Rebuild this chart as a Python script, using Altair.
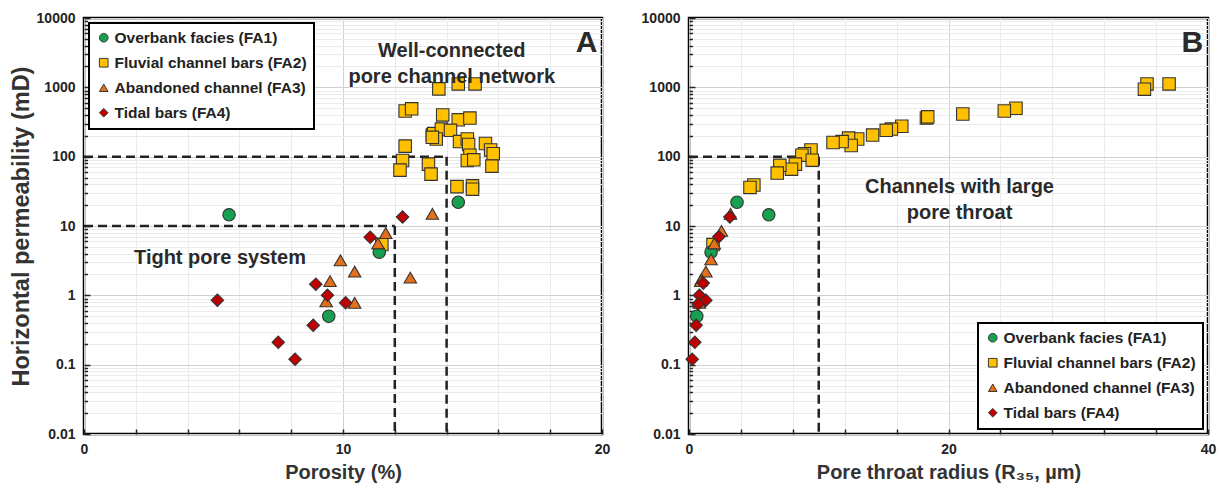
import altair as alt
import pandas as pd

FONT = "Liberation Sans"

facies = ["Overbank facies (FA1)", "Fluvial channel bars (FA2)",
          "Abandoned channel (FA3)", "Tidal bars (FA4)"]
colors = ["#17a050", "#ffc000", "#e4701a", "#c00000"]
shapes = ["circle", "square", "triangle-up", "diamond"]

# ---- Panel A: porosity (%) vs permeability (mD)
a_fa1_x = [5.6, 9.45, 11.4, 14.45]
a_fa1_k = [14.5, 0.5, 4.2, 22]
a_fa2_x = [13.7, 14.45, 15.1, 12.4, 12.65, 13.85, 14.45, 14.9, 13.45, 13.5, 13.8,
           14.15, 13.6, 13.45, 14.5, 14.8, 14.85, 15.5, 15.7, 15.8, 14.9, 14.8,
           15.05, 15.75, 12.4, 12.3, 12.2, 13.3, 13.4, 14.4, 15.0, 15.0, 11.5]
a_fa2_k = [950, 1120, 1120, 455, 490, 400, 340, 360, 205, 215, 250,
           240, 180, 190, 165, 180, 150, 155, 125, 110, 105, 88,
           90, 73, 142, 88, 64, 78, 56, 37, 38, 34, 5.4]
a_fa3_x = [11.65, 11.35, 13.45, 9.9, 10.45, 12.6, 9.5, 9.35, 10.45]
a_fa3_k = [7.9, 5.6, 15, 3.2, 2.2, 1.8, 1.6, 0.82, 0.78]
a_fa4_x = [12.3, 11.05, 8.95, 9.4, 10.1, 8.85, 5.15, 7.5, 8.15]
a_fa4_k = [13.5, 6.9, 1.45, 1.0, 0.78, 0.37, 0.85, 0.21, 0.12]

# ---- Panel B: pore throat radius R35 (um) vs permeability (mD)
b_fa1_x = [6.15, 0.6, 1.7, 3.7]
b_fa1_k = [14.5, 0.5, 4.2, 22]
b_fa2_x = [35.3, 35.1, 37.0, 25.2, 24.3, 21.1, 18.3, 18.4, 16.4, 15.6, 15.2,
           14.15, 13.0, 12.3, 12.5, 11.8, 11.1, 9.4, 8.9, 8.7, 9.5, 8.2,
           7.9, 7.0, 6.8, 5.0, 4.7, 1.85]
b_fa2_k = [1120, 940, 1120, 500, 455, 412, 360, 375, 275, 250, 240,
           205, 180, 185, 145, 165, 160, 125, 110, 105, 89, 78,
           66, 75, 58, 39, 36, 5.4]
b_fa3_x = [2.5, 1.95, 3.2, 1.7, 1.3, 0.95, 0.9, 0.75, 0.8]
b_fa3_k = [8.5, 5.6, 15, 3.3, 2.2, 1.7, 1.6, 0.82, 0.78]
b_fa4_x = [3.15, 2.3, 1.1, 0.8, 1.3, 0.7, 0.55, 0.45, 0.25]
b_fa4_k = [13.5, 7.0, 1.5, 1.0, 0.85, 0.75, 0.37, 0.21, 0.12]

# dashed cut-off lines (x, y, x2, y2) in data units
a_cut_x = [0, 14, 0, 12]
a_cut_y = [100, 100, 10, 10]
a_cut_x2 = [14, 14, 12, 12]
a_cut_y2 = [100, 0.01, 10, 0.01]
b_cut_x = [0, 10]
b_cut_y = [100, 100]
b_cut_x2 = [10, 10]
b_cut_y2 = [100, 0.01]

# annotations
a_note_text = ["Well-connected", "pore channel network", "Tight pore system", "A"]
a_note_x = [14.2, 14.2, 5.25, 19.4]
a_note_k = [3300, 1400, 3.5, 4300]
a_note_size = [20, 20, 20, 30]
b_note_text = ["Channels with large", "pore throat", "B"]
b_note_x = [20.85, 20.85, 38.8]
b_note_k = [36, 15.5, 4300]
b_note_size = [20, 20, 30]

y_ticks = [m * 10 ** e for e in range(-2, 4) for m in range(1, 10)] + [10000]
major_test = "abs(log(datum.value)/LN10 - round(log(datum.value)/LN10)) < 1e-6"


def points_df(groups):
    rows = []
    for name, xs, ks in groups:
        for x, k in zip(xs, ks):
            rows.append({"facies": name, "x": x, "k": k})
    return pd.DataFrame(rows)


def panel(df, cuts, notes, xmax, xstep, xlabstep, xtitle, ytitle, legend_orient, width):
    y_axis = alt.Axis(
        values=y_ticks,
        labelExpr=f"({major_test}) ? (datum.value >= 1 ? format(datum.value, 'd') : format(datum.value, '.2~f')) : ''",
        title=ytitle,
        grid=True,
        gridColor={"condition": {"test": major_test, "value": "#d2d2d2"}, "value": "#ebebeb"},
        tickSize={"condition": {"test": major_test, "value": -6}, "value": -3.5},
        tickColor="#222", tickWidth=1.5,
        domain=False,
        labelFont=FONT, labelFontSize=14, labelFontWeight="bold", labelColor="#222",
        labelPadding=15,
        titleFont=FONT, titleFontSize=23.5, titleFontWeight="bold", titleColor="#333",
        titlePadding=3,
    )
    x_major = f"datum.value % {xlabstep} == 0"
    x_axis = alt.Axis(
        values=list(range(0, xmax + 1, xstep)),
        labelExpr=f"({x_major}) ? format(datum.value, 'd') : ''",
        title=xtitle,
        grid=True,
        gridColor={"condition": {"test": x_major, "value": "#d2d2d2"}, "value": "#ebebeb"},
        tickSize={"expr": "-5"}, tickColor="#222", tickWidth=1.5,
        domain=False, labelFlush=False,
        labelFont=FONT, labelFontSize=14, labelFontWeight="bold", labelColor="#222",
        labelPadding=13,
        titleFont=FONT, titleFontSize=20, titleFontWeight="bold", titleColor="#333",
        titlePadding=6,
    )
    xs = alt.Scale(domain=[0, xmax], nice=False)
    ys = alt.Scale(type="log", domain=[0.01, 10000], nice=False)

    legend = alt.Legend(
        orient=legend_orient, title=None,
        strokeColor="black", fillColor="white", padding=7, rowPadding=8,
        labelFont=FONT, labelFontSize=15.5, labelFontWeight="bold", labelColor="#222",
        symbolSize=75, symbolStrokeColor="#3a3a3a", symbolStrokeWidth=1, labelOffset=3,
        offset=5, labelLimit=400,
    )
    pts = alt.Chart(df).mark_point(filled=True, size=155, stroke="#333333",
                                   strokeWidth=1.1, opacity=1).encode(
        x=alt.X("x:Q", scale=xs, axis=x_axis),
        y=alt.Y("k:Q", scale=ys, axis=y_axis),
        color=alt.Color("facies:N", scale=alt.Scale(domain=facies, range=colors), legend=legend),
        shape=alt.Shape("facies:N", scale=alt.Scale(domain=facies, range=shapes), legend=legend),
        order=alt.Order("ord:Q"),
    )
    cut = alt.Chart(cuts).mark_rule(color="#222", strokeWidth=2.5, strokeDash=[9, 5]).encode(
        x=alt.X("x:Q", scale=xs), y=alt.Y("y:Q", scale=ys),
        x2="x2:Q", y2="y2:Q",
    )
    txt = alt.Chart(notes).mark_text(font=FONT, fontWeight="bold", color="#2a2a2a").encode(
        x=alt.X("x:Q", scale=xs), y=alt.Y("k:Q", scale=ys),
        text="text:N", size=alt.Size("size:Q", scale=None, legend=None),
    )
    return alt.layer(cut, pts, txt).properties(width=width, height=416)


def order_df(df):
    order_map = {facies[1]: 0, facies[0]: 1, facies[2]: 2, facies[3]: 3}
    df["ord"] = df["facies"].map(order_map)
    return df


df_a = order_df(points_df([(facies[1], a_fa2_x, a_fa2_k), (facies[0], a_fa1_x, a_fa1_k),
                           (facies[2], a_fa3_x, a_fa3_k), (facies[3], a_fa4_x, a_fa4_k)]))
df_b = order_df(points_df([(facies[1], b_fa2_x, b_fa2_k), (facies[0], b_fa1_x, b_fa1_k),
                           (facies[2], b_fa3_x, b_fa3_k), (facies[3], b_fa4_x, b_fa4_k)]))

cuts_a = pd.DataFrame({"x": a_cut_x, "y": a_cut_y, "x2": a_cut_x2, "y2": a_cut_y2})
cuts_b = pd.DataFrame({"x": b_cut_x, "y": b_cut_y, "x2": b_cut_x2, "y2": b_cut_y2})
notes_a = pd.DataFrame({"text": a_note_text, "x": a_note_x, "k": a_note_k, "size": a_note_size})
notes_b = pd.DataFrame({"text": b_note_text, "x": b_note_x, "k": b_note_k, "size": b_note_size})

left = panel(df_a, cuts_a, notes_a, 20, 1, 5, "Porosity (%)", "Horizontal permeability (mD)", "top-left", 518)
right = panel(df_b, cuts_b, notes_b, 40, 2, 10, "Pore throat radius (R₃₅, µm)", None, "bottom-right", 519)

chart = alt.hconcat(left, right, spacing=27).resolve_legend(
    color="independent", shape="independent"
).properties(
    padding={"left": 7, "top": 9, "right": 0, "bottom": 0},
    background="white",
).configure_view(
    stroke="black", strokeWidth=2.5
).configure_legend(
    strokeColor="black", strokeWidth=2
)

chart.save("out.html", embed_options={"renderer": "svg", "actions": False})
